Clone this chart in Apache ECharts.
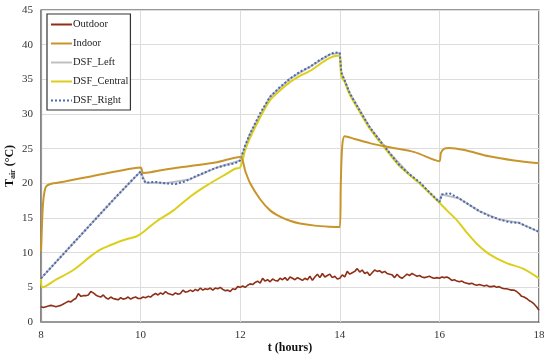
<!DOCTYPE html>
<html><head><meta charset="utf-8">
<script src="https://cdn.jsdelivr.net/npm/echarts@6/dist/echarts.min.js"></script>
<style>html,body{margin:0;padding:0;background:#fff}#c{width:550px;height:358px}</style>
</head><body><div id="c"></div>
<script>
// X ticks (hours) and Y ticks
const xTicks = [8, 10, 12, 14, 16, 18];
const yTicks = [0, 5, 10, 15, 20, 25, 30, 35, 40, 45];
const seriesNames = ['Outdoor', 'Indoor', 'DSF_Left', 'DSF_Central', 'DSF_Right'];

// Outdoor: sampled every 0.05 h from 8.00 to 18.00
const outdoorStart = 8, outdoorStep = 0.05;
const outdoorV = [
 2.2,2.1,2.2,2.3,2.4,2.3,2.2,2.3,2.4,2.6,2.8,
 3.0,2.9,3.2,3.4,4.1,3.7,3.8,3.8,3.9,4.4,
 4.2,3.9,3.7,3.6,3.9,3.5,3.3,3.6,3.4,3.3,
 3.2,3.5,3.3,3.4,3.6,3.3,3.5,3.6,3.4,3.4,
 3.6,3.5,3.7,3.6,3.9,4.1,3.9,4.2,4.0,4.4,
 4.1,4.0,3.9,4.2,4.0,4.1,4.6,4.3,4.4,4.6,
 4.4,4.7,4.5,4.9,4.6,4.8,4.7,4.9,4.6,4.9,
 4.8,5.0,4.7,4.5,4.6,4.4,4.8,4.7,5.1,5.0,
 5.2,5.0,5.3,5.5,5.4,5.7,5.9,5.6,6.3,5.9,
 6.1,5.8,6.2,6.0,5.9,6.3,6.1,6.4,6.0,6.5,
 6.3,6.1,6.4,6.2,6.0,6.3,6.1,6.6,6.0,6.5,
 6.9,6.4,7.0,6.5,6.7,6.9,6.4,6.6,6.2,6.3,
 6.8,6.5,7.3,6.9,7.1,7.3,7.7,7.2,7.5,7.0,
 7.2,6.7,7.1,7.5,7.3,7.4,7.1,7.3,7.0,6.9,
 6.8,6.4,6.9,6.5,6.3,6.6,6.9,6.7,7.0,6.8,
 6.6,6.7,6.5,6.4,6.5,6.6,6.4,6.3,6.4,6.3,
 6.5,6.4,6.5,6.3,6.0,6.1,5.9,5.8,5.9,5.7,
 5.6,5.5,5.6,5.4,5.3,5.4,5.3,5.2,5.3,5.1,
 5.1,5.2,5.0,5.1,4.9,4.8,4.8,4.7,4.6,4.6,
 4.4,4.1,3.7,3.6,3.4,3.1,2.9,2.6,2.2,1.7
];

const indoorT = [8.00,8.02,8.04,8.07,8.10,8.15,8.25,8.5,9.0,9.5,10.0,10.05,10.2,10.5,11.0,11.5,12.0,12.1,12.2,12.4,12.6,12.8,13.0,13.2,13.5,13.8,14.0,14.02,14.05,14.1,14.3,14.6,15.0,15.5,16.0,16.03,16.1,16.2,16.5,17.0,17.5,18.0];
const indoorV = [10.2,14.0,17.0,18.8,19.5,19.8,20.0,20.3,21.0,21.7,22.3,21.5,21.6,22.0,22.5,23.0,23.8,21.8,20.0,17.7,16.1,15.2,14.6,14.2,13.9,13.75,13.7,20.0,25.5,26.8,26.4,25.8,25.2,24.5,23.2,24.4,25.0,25.1,24.8,23.9,23.3,22.9];

const rightT = [8.0,8.5,9.0,9.5,9.9,10.0,10.05,10.1,10.3,10.5,10.7,10.9,11.1,11.3,11.5,11.7,11.9,12.0,12.1,12.2,12.4,12.6,12.8,13.0,13.2,13.4,13.6,13.8,13.9,14.0,14.03,14.1,14.2,14.4,14.6,14.8,15.0,15.2,15.4,15.6,15.8,16.0,16.05,16.2,16.4,16.6,16.8,17.0,17.2,17.4,17.6,17.75,18.0];
const rightV = [6.3,10.2,14.1,18.0,21.0,21.7,20.6,20.1,20.2,20.0,19.9,20.3,21.0,21.6,22.2,22.6,22.9,23.3,25.5,27.2,30.1,32.5,33.9,35.1,36.1,36.8,37.8,38.6,38.9,38.8,36.0,34.8,33.0,30.5,28.1,26.2,24.4,22.6,21.3,20.2,18.7,17.3,18.4,18.6,17.8,16.9,16.0,15.3,14.8,14.4,14.3,13.8,13.0];

const leftT = [8.0,8.5,9.0,9.5,10.0,10.1,10.5,11.0,11.5,12.0,12.2,12.6,13.0,13.4,13.8,14.0,14.03,14.2,14.6,15.0,15.4,15.8,16.0,16.05,16.4,16.8,17.2,17.6,18.0];
const leftV = [6.3,10.2,14.1,18.0,21.7,20.1,20.0,20.6,22.2,23.3,27.2,32.5,35.1,36.8,38.6,38.8,36.0,33.0,28.1,24.4,21.3,18.7,17.3,18.4,17.8,16.0,14.8,14.3,13.0];

const centralT = [8.0,8.03,8.3,8.65,9.0,9.18,9.4,9.65,9.9,10.0,10.32,10.66,11.0,11.33,11.73,11.9,12.0,12.1,12.2,12.4,12.6,12.8,13.0,13.2,13.4,13.6,13.8,13.95,14.0,14.03,14.1,14.2,14.4,14.6,14.8,15.0,15.2,15.4,15.6,15.8,16.0,16.15,16.35,16.55,16.75,17.0,17.35,17.68,18.0];
const centralV = [6.2,5.0,6.1,7.5,9.5,10.4,11.1,11.8,12.3,12.7,14.5,16.1,18.1,19.7,21.4,22.1,22.3,24.8,26.6,29.5,32.0,33.4,34.6,35.5,36.2,37.2,38.1,38.4,38.3,35.5,34.6,32.8,30.3,27.9,26.0,24.2,22.5,21.2,20.0,18.6,17.2,16.1,14.7,12.9,11.3,9.8,8.5,7.7,6.3];

function pairs(t, v) { return t.map((x, i) => [x, v[i]]); }
const outdoorData = outdoorV.map((v, i) => [+(outdoorStart + i * outdoorStep).toFixed(2), v]);

const FONT = 'Liberation Serif';
const chart = echarts.init(document.getElementById('c'), null, {renderer: 'canvas'});
chart.setOption({
  animation: false,
  backgroundColor: '#fff',
  textStyle: {fontFamily: FONT},
  grid: {left: 41, right: 11, top: 10, bottom: 36, containLabel: false, outerBoundsMode: 'none',
         show: true, borderColor: '#333', borderWidth: 1.2, backgroundColor: 'transparent'},
  legend: {
    orient: 'vertical', left: 47, top: 14,
    data: seriesNames,
    itemWidth: 21, itemHeight: 10, itemGap: 8,
    padding: [5, 2, 4, 3],
    borderColor: '#333', borderWidth: 1.2, backgroundColor: '#fff',
    itemStyle: {opacity: 0},
    textStyle: {fontFamily: FONT, fontSize: 10.5, color: '#222', padding: [0, 0, 0, -4]}
  },
  xAxis: {
    type: 'value', min: 8, max: 18, interval: 2,
    name: 't (hours)', nameLocation: 'middle', nameGap: 20, nameMoveOverlap: false,
    nameTextStyle: {fontFamily: FONT, fontWeight: 'bold', fontSize: 12, color: '#111'},
    axisLine: {show: true, lineStyle: {color: '#999', width: 1.2}},
    axisTick: {show: false},
    axisLabel: {fontFamily: FONT, fontSize: 11, color: '#333', margin: 8},
    splitLine: {show: true, lineStyle: {color: '#dcdcdc', width: 1}}
  },
  yAxis: {
    type: 'value', min: 0, max: 45, interval: 5,
    name: '{m|T}{s|air}{m| (°C)}', nameLocation: 'middle', nameGap: 24, nameRotate: 90, nameMoveOverlap: false,
    nameTextStyle: {rich: {
      m: {fontFamily: FONT, fontWeight: 'bold', fontSize: 12, color: '#111'},
      s: {fontFamily: FONT, fontWeight: 'bold', fontSize: 8, color: '#111', verticalAlign: 'bottom', padding: [6, 0, 0, 0]}
    }},
    axisLine: {show: true, lineStyle: {color: '#999', width: 1.2}},
    axisTick: {show: false},
    axisLabel: {fontFamily: FONT, fontSize: 11, color: '#333', margin: 8},
    splitLine: {show: true, lineStyle: {color: '#dcdcdc', width: 1}}
  },
  series: [
    {name: 'DSF_Left', type: 'line', data: pairs(leftT, leftV), showSymbol: false, symbol: 'none', z: 2,
     color: '#c0c0c0', lineStyle: {color: '#c0c0c0', width: 2}},
    {name: 'DSF_Central', type: 'line', data: pairs(centralT, centralV), showSymbol: false, symbol: 'none', smooth: 0.3, z: 3,
     color: '#dccf1c', lineStyle: {color: '#dccf1c', width: 2}},
    {name: 'DSF_Right', type: 'line', data: pairs(rightT, rightV), showSymbol: false, symbol: 'none', z: 4,
     color: '#4a68b4', lineStyle: {color: '#4a68b4', width: 2, type: 'dotted'}},
    {name: 'Indoor', type: 'line', data: pairs(indoorT, indoorV), showSymbol: false, symbol: 'none', smooth: 0.3, z: 5,
     color: '#c8952a', lineStyle: {color: '#c8952a', width: 2}},
    {name: 'Outdoor', type: 'line', data: outdoorData, showSymbol: false, symbol: 'none', z: 6,
     color: '#8e2f17', lineStyle: {color: '#8e2f17', width: 1.6}}
  ]
});
</script></body></html>
